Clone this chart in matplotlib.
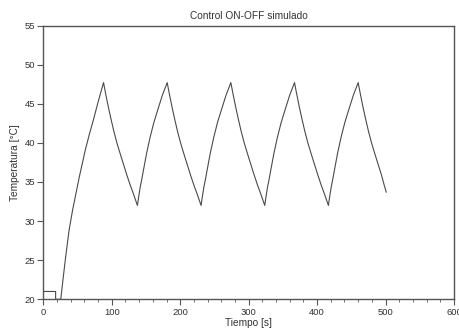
import matplotlib
matplotlib.use("Agg")
import matplotlib.pyplot as plt
from matplotlib.ticker import MultipleLocator

plt.rcParams['font.family'] = ['Liberation Sans', 'DejaVu Sans']

# time [s]
tiempo = [0, 18, 18, 25.5, 29, 32.5, 37.6, 43, 48.8, 53, 57.6, 61.1, 67, 73.1, 80, 88,
          91.5, 95, 99, 103, 107.5, 112, 117, 122, 127, 132, 137.5,
          139.5, 141.5, 144, 146.5, 151, 156, 161.5, 167.5, 174, 181,
          184.5, 188, 192, 196, 200.5, 205, 210, 215, 220, 225, 230.5,
          232.5, 234.5, 237, 239.5, 244, 249, 254.5, 260.5, 267, 274,
          277.5, 281, 285, 289, 293.5, 298, 303, 308, 313, 318, 323.5,
          325.5, 327.5, 330, 332.5, 337, 342, 347.5, 353.5, 360, 367,
          370.5, 374, 378, 382, 386.5, 391, 396, 401, 406, 411, 416.5,
          418.5, 420.5, 423, 425.5, 430, 435, 440.5, 446.5, 453, 460,
          463.5, 467, 471, 475, 479.5, 484, 489, 494, 498, 501]
# temperature [°C]
temperatura = [21, 21, 20, 20, 22.7, 25.3, 28.8, 31.5, 34.0, 35.8, 37.6, 39.0, 41.0, 42.9, 45.2, 47.7,
               46.1, 44.6, 43.0, 41.5, 40.0, 38.7, 37.3, 35.9, 34.6, 33.4, 32.0,
               33.2, 34.3, 35.4, 36.6, 38.7, 40.7, 42.6, 44.3, 46.1, 47.7,
               46.1, 44.6, 43.0, 41.5, 40.0, 38.7, 37.3, 35.9, 34.6, 33.4, 32.0,
               33.2, 34.3, 35.4, 36.6, 38.7, 40.7, 42.6, 44.3, 46.1, 47.7,
               46.1, 44.6, 43.0, 41.5, 40.0, 38.7, 37.3, 35.9, 34.6, 33.4, 32.0,
               33.2, 34.3, 35.4, 36.6, 38.7, 40.7, 42.6, 44.3, 46.1, 47.7,
               46.1, 44.6, 43.0, 41.5, 40.0, 38.7, 37.3, 35.9, 34.6, 33.4, 32.0,
               33.2, 34.3, 35.4, 36.6, 38.7, 40.7, 42.6, 44.3, 46.1, 47.7,
               46.1, 44.6, 43.0, 41.5, 40.0, 38.7, 37.3, 35.9, 34.6, 33.7]

titulo = "Control ON-OFF simulado"
xlabel = "Tiempo [s]"
ylabel = "Temperatura [°C]"

fig = plt.figure(figsize=(4.6, 3.31), dpi=100)
ax = fig.add_axes([43.3/460, 1-299.3/331, (454-43.3)/460, (299.3-25.5)/331])
ax.plot(tiempo, temperatura, color='#4a4a4a', lw=0.8)
ax.set_xlim(0, 600)
ax.set_ylim(20, 55)
ax.xaxis.set_major_locator(MultipleLocator(100))
ax.xaxis.set_minor_locator(MultipleLocator(20))
ax.yaxis.set_major_locator(MultipleLocator(5))
for s in ax.spines.values():
    s.set_color('#555555')
    s.set_linewidth(1.0)
ax.tick_params(which='major', direction='out', length=4, width=0.8, colors='#555555',
               labelsize=6.8, labelcolor='#333333', pad=2)
ax.tick_params(which='minor', direction='out', length=2, width=0.6, colors='#555555')
ax.set_title(titulo, fontsize=7.3, color='#333333', pad=5)
ax.set_xlabel(xlabel, fontsize=7.3, color='#333333', labelpad=1)
ax.set_ylabel(ylabel, fontsize=7.3, color='#333333', labelpad=3)
fig.savefig("out.png", dpi=100)
